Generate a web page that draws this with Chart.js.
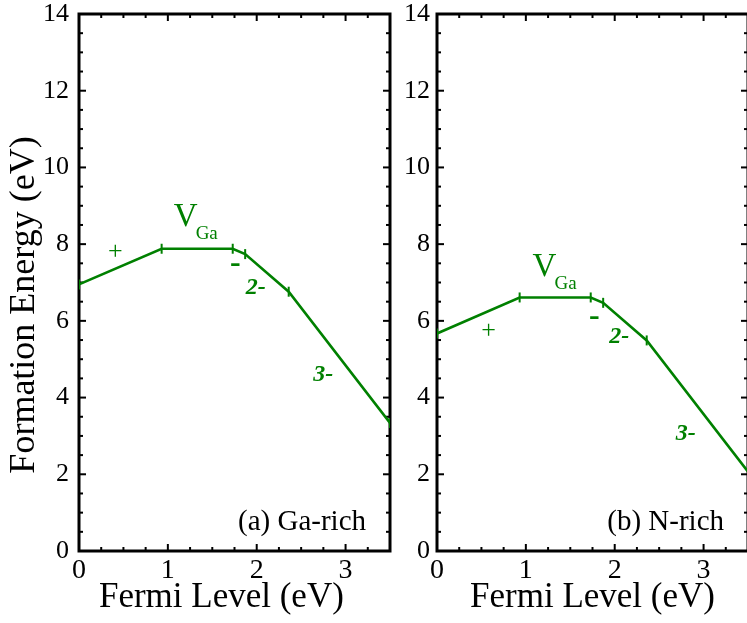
<!DOCTYPE html>
<html><head><meta charset="utf-8">
<script src="https://cdn.jsdelivr.net/npm/chart.js@4"></script>
<style>
html,body{margin:0;padding:0;background:#fff;overflow:hidden;width:747px;height:623px;}
#cA{position:absolute;left:0;top:0;}
#cB{position:absolute;left:400px;top:0;}
</style></head><body>
<canvas id="cA" width="400" height="623"></canvas>
<canvas id="cB" width="360" height="623"></canvas>
<script>
// ---- data ----
const fermiLevelGaRich = [0, 0.93, 1.73, 1.87, 2.36, 3.5];
const formationEnergyGaRich = [6.95, 7.88, 7.88, 7.74, 6.76, 3.34];
const fermiLevelNRich = [0, 0.93, 1.73, 1.87, 2.36, 3.5];
const formationEnergyNRich = [5.67, 6.61, 6.61, 6.47, 5.49, 2.07];

const xTickValues = [0, 1, 2, 3];
const xTickLabels = ['0', '1', '2', '3'];
const yTickValues = [0, 2, 4, 6, 8, 10, 12, 14];
const yTickLabels = ['0', '2', '4', '6', '8', '10', '12', '14'];

const chargeStates = ['+', '-', '2-', '3-'];
const chargeLabelXGaRich = [0.41, 1.76, 1.99, 2.75];
const chargeLabelYGaRich = [7.78, 7.48, 6.86, 4.60];
const chargeLabelXNRich = [0.58, 1.77, 2.05, 2.80];
const chargeLabelYNRich = [5.74, 6.10, 5.59, 3.05];
const defectNameGaRich = [1.20, 8.70]; // V position
const defectNameNRich = [1.21, 7.40];
const panelTitles = ['(a) Ga-rich', '(b) N-rich'];

const GREEN = '#008000';
const SERIF = '"Liberation Serif", "Times New Roman", serif';

const frameTicks = {
  id: 'frameTicks',
  beforeDatasetsDraw(chart) {
    const {ctx, chartArea: a, scales: {x, y}} = chart;
    ctx.save();
    ctx.strokeStyle = '#000';
    ctx.lineWidth = 2;
    const seg = (x1, y1, x2, y2) => { ctx.beginPath(); ctx.moveTo(x1, y1); ctx.lineTo(x2, y2); ctx.stroke(); };
    for (let i = 0; i <= 14; i++) {
      const v = i * 0.25;
      const px = x.getPixelForValue(v);
      const len = (i % 4 === 0) ? 7 : 4;
      seg(px, a.bottom, px, a.bottom - len);
      seg(px, a.top, px, a.top + len);
    }
    for (let i = 0; i <= 28; i++) {
      const v = i * 0.5;
      const py = y.getPixelForValue(v);
      const len = (i % 4 === 0) ? 7 : 4;
      seg(a.left, py, a.left + len, py);
      seg(a.right, py, a.right - len, py);
    }
    ctx.lineWidth = 3;
    ctx.strokeRect(a.left, a.top, a.right - a.left, a.bottom - a.top);
    ctx.restore();
  }
};

const labelsPlugin = {
  id: 'labelsPlugin',
  afterDatasetsDraw(chart, args, opts) {
    const {ctx, scales: {x, y}} = chart;
    ctx.save();
    ctx.fillStyle = GREEN;
    ctx.textAlign = 'center';
    ctx.textBaseline = 'middle';
    const fonts = ['26px ' + SERIF, 'bold 32px ' + SERIF, 'italic bold 24px ' + SERIF, 'italic bold 24px ' + SERIF];
    chargeStates.forEach((s, i) => {
      ctx.font = fonts[i];
      ctx.fillText(s, x.getPixelForValue(opts.lx[i]), y.getPixelForValue(opts.ly[i]));
    });
    // V_Ga
    const vx = x.getPixelForValue(opts.v[0]), vy = y.getPixelForValue(opts.v[1]);
    ctx.font = '33px ' + SERIF;
    ctx.fillText('V', vx, vy);
    ctx.font = '19px ' + SERIF;
    ctx.textAlign = 'left';
    ctx.fillText('Ga', vx + 10, vy + 17);
    // panel title
    ctx.fillStyle = '#000';
    ctx.textAlign = 'right';
    ctx.font = '29px ' + SERIF;
    ctx.fillText(opts.title, x.getPixelForValue(opts.titlePos[0]), y.getPixelForValue(opts.titlePos[1]));
    ctx.restore();
  }
};

function makeChart(id, xs, ys, cfg) {
  return new Chart(document.getElementById(id), {
    type: 'line',
    data: {
      datasets: [{
        data: xs.map((v, i) => ({x: v, y: ys[i]})),
        borderColor: GREEN,
        borderWidth: 2.6,
        pointStyle: 'line',
        rotation: 90,
        pointRadius: 5,
        pointBorderWidth: 2,
        pointBorderColor: GREEN,
        pointBackgroundColor: GREEN,
        tension: 0,
        fill: false
      }]
    },
    options: {
      responsive: false,
      animation: false,
      devicePixelRatio: 1,
      layout: {padding: {top: 14, right: cfg.padRight, left: 0, bottom: 0}},
      plugins: {
        legend: {display: false},
        tooltip: {enabled: false},
        labelsPlugin: cfg.labels
      },
      scales: {
        x: {
          type: 'linear', min: 0, max: 3.5,
          grid: {display: false, drawTicks: false},
          border: {display: false},
          afterBuildTicks: s => { s.ticks = xTickValues.map(v => ({value: v})); },
          afterFit: s => { s.height = 72; s.paddingLeft = 0; s.paddingRight = 0; },
          ticks: {
            color: '#000', padding: 3, maxRotation: 0, autoSkip: false,
            font: {family: SERIF, size: 28},
            callback: (v) => xTickLabels[xTickValues.indexOf(v)]
          },
          title: {
            display: true, text: cfg.xTitle, color: '#000',
            font: {family: SERIF, size: 35}, padding: {top: 0, bottom: 4}
          }
        },
        y: {
          type: 'linear', min: 0, max: 14,
          grid: {display: false, drawTicks: false},
          border: {display: false},
          afterBuildTicks: s => { s.ticks = yTickValues.map(v => ({value: v})); },
          afterFit: s => { s.width = cfg.yWidth; s.paddingTop = 0; s.paddingBottom = 0; },
          ticks: {
            color: '#000', padding: cfg.yPad, autoSkip: false,
            font: {family: SERIF, size: 26},
            callback: (v) => yTickLabels[yTickValues.indexOf(v)]
          },
          title: {
            display: cfg.yTitle, text: 'Formation Energy (eV)\u2002\u2002 ', color: '#000',
            font: {family: SERIF, size: 36}, padding: {top: 3, bottom: 0}
          }
        }
      }
    },
    plugins: [frameTicks, labelsPlugin]
  });
}

function build() {
  makeChart('cA', fermiLevelGaRich, formationEnergyGaRich, {
    padRight: 10, yWidth: 79, yPad: 10, yTitle: true, xTitle: 'Fermi Level (eV)\u2002 ',
    labels: {lx: chargeLabelXGaRich, ly: chargeLabelYGaRich, v: defectNameGaRich, title: panelTitles[0], titlePos: [3.23, 0.75]}
  });
  makeChart('cB', fermiLevelNRich, formationEnergyNRich, {
    padRight: 12, yWidth: 37, yPad: 7, yTitle: false, xTitle: 'Fermi Level (eV)',
    labels: {lx: chargeLabelXNRich, ly: chargeLabelYNRich, v: defectNameNRich, title: panelTitles[1], titlePos: [3.23, 0.75]}
  });
}

Promise.all([
  document.fonts.load('26px "Liberation Serif"'),
  document.fonts.load('bold 26px "Liberation Serif"'),
  document.fonts.load('italic bold 22px "Liberation Serif"')
]).catch(() => {}).then(build);
</script>
</body></html>
